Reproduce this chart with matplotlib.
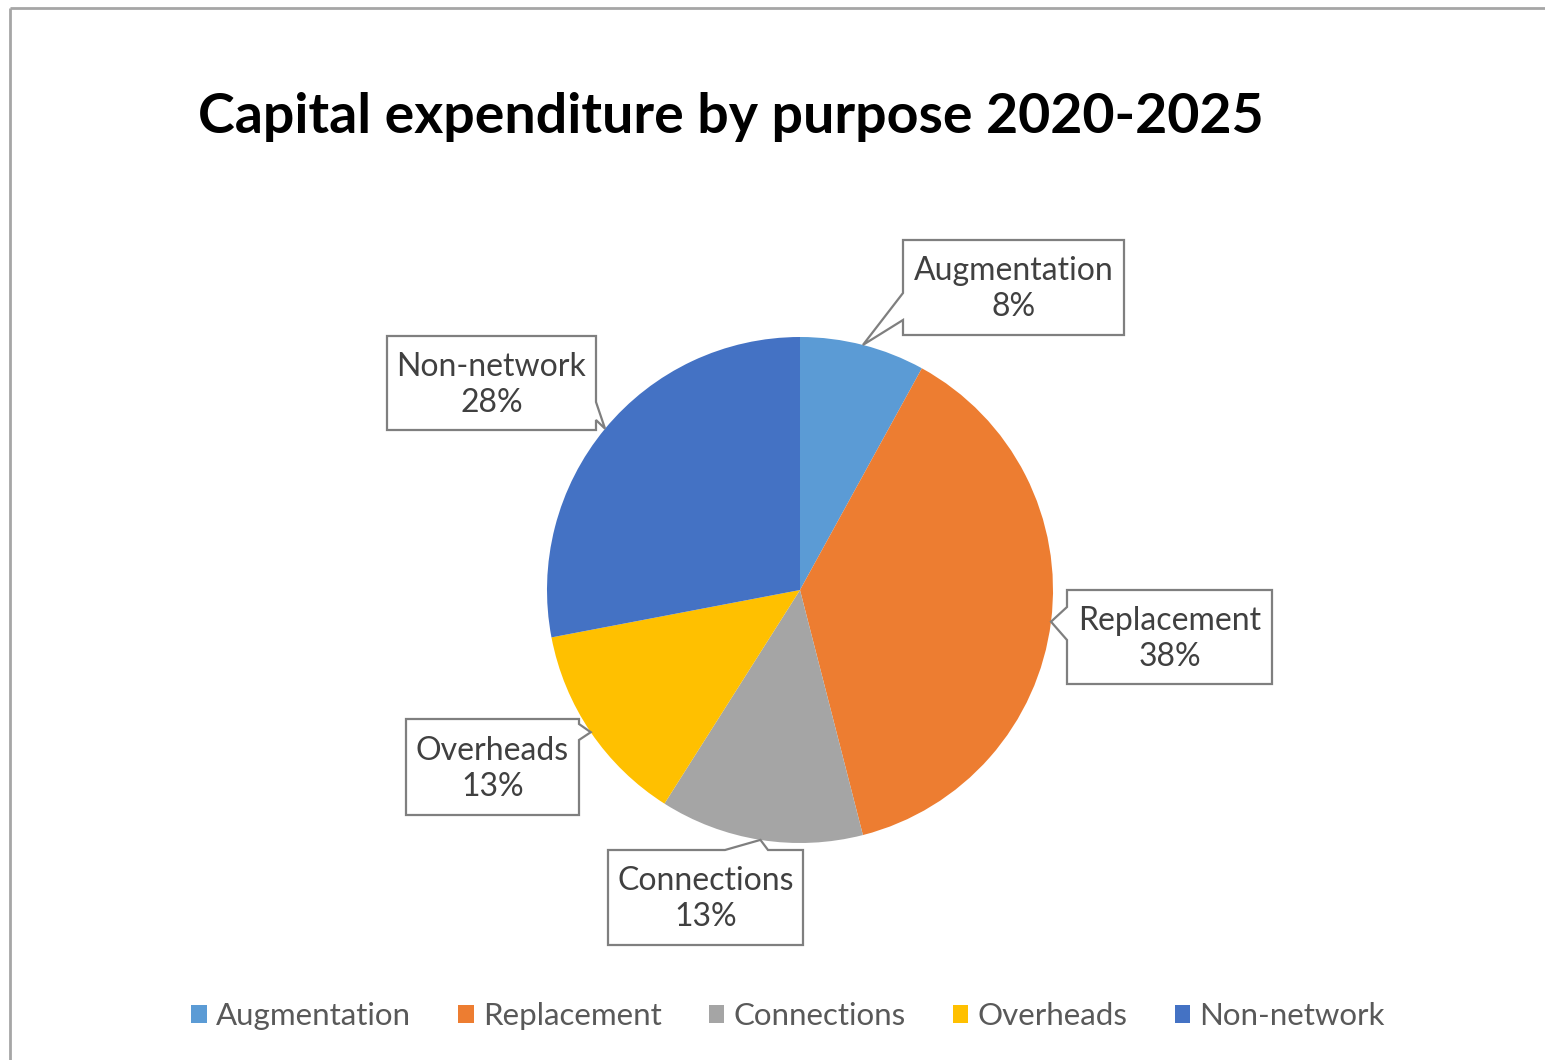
import numpy as np
import matplotlib.pyplot as plt
from matplotlib.patches import Polygon, Patch

labels = ['Augmentation', 'Replacement', 'Connections', 'Overheads', 'Non-network']
shares = [8, 38, 13, 13, 28]
colors = ['#5B9BD5', '#ED7D31', '#A5A5A5', '#FFC000', '#4472C4']

W, H = 1545, 1060
fig = plt.figure(figsize=(W / 100, H / 100), dpi=100)
ax = fig.add_axes([0, 0, 1, 1])

# pie in pixel coordinates (y axis points down)
cx, cy, r = 800, 590, 253
wedges, _ = ax.pie(shares, colors=colors, startangle=-90, counterclock=True,
                   center=(cx, cy), radius=r, wedgeprops=dict(linewidth=0))
ax.set_xlim(0, W)
ax.set_ylim(H, 0)
ax.set_aspect('equal')
ax.axis('off')

# page border
ax.plot([10, W], [8, 8], color='#a6a6a6', lw=2, solid_capstyle='butt')
ax.plot([10, 10], [8, H], color='#a6a6a6', lw=2, solid_capstyle='butt')

# callout boxes: (x0, y0, x1, y1), side of the pointer, pointer base
boxes = {
    'Augmentation': ((903, 240, 1124, 335), 'left', (293, 320)),
    'Replacement': ((1067, 590, 1272, 684), 'left', (607, 640)),
    'Connections': ((608, 850, 803, 945), 'top', (725, 768)),
    'Overheads': ((406, 719, 579, 815), 'right', (724, 740)),
    'Non-network': ((387, 336, 596, 430), 'right', (402, 420)),
}


def callout_pts(box, side, base, tip):
    x0, y0, x1, y1 = box
    if side == 'top':
        return [(x0, y0), (base[0], y0), tip, (base[1], y0), (x1, y0), (x1, y1), (x0, y1)]
    if side == 'right':
        return [(x0, y0), (x1, y0), (x1, base[0]), tip, (x1, base[1]), (x1, y1), (x0, y1)]
    return [(x0, y0), (x1, y0), (x1, y1), (x0, y1), (x0, base[1]), tip, (x0, base[0])]


for w, lab, val in zip(wedges, labels, shares):
    mid = np.deg2rad((w.theta1 + w.theta2) / 2)
    tip = (cx + r * np.cos(mid), cy + r * np.sin(mid))
    box, side, base = boxes[lab]
    poly = Polygon(callout_pts(box, side, base, tip), closed=True,
                   facecolor='white', edgecolor='#7f7f7f', lw=1.6, zorder=3)
    ax.add_patch(poly)
    ax.text((box[0] + box[2]) / 2, (box[1] + box[3]) / 2 + 2, f'{lab}\n{val}%',
            ha='center', va='center', fontsize=23, color='#404040',
            family='Lato', linespacing=1.25, zorder=4)

fig.text(198 / W, 1 - 117 / H, 'Capital expenditure by purpose 2020-2025',
         ha='left', va='center', fontsize=40, fontweight='bold', family='Lato', color='black')

handles = [Patch(facecolor=c, edgecolor='none') for c in colors]
fig.legend(handles, labels, loc='center', bbox_to_anchor=(788 / W, 1 - 1016 / H),
           ncol=5, frameon=False, labelcolor='#595959',
           handlelength=0.5, handleheight=0.5, handletextpad=0.3, columnspacing=1.5,
           prop={'family': 'Lato', 'size': 22.5})

fig.savefig('out.png', dpi=100, facecolor='white')
